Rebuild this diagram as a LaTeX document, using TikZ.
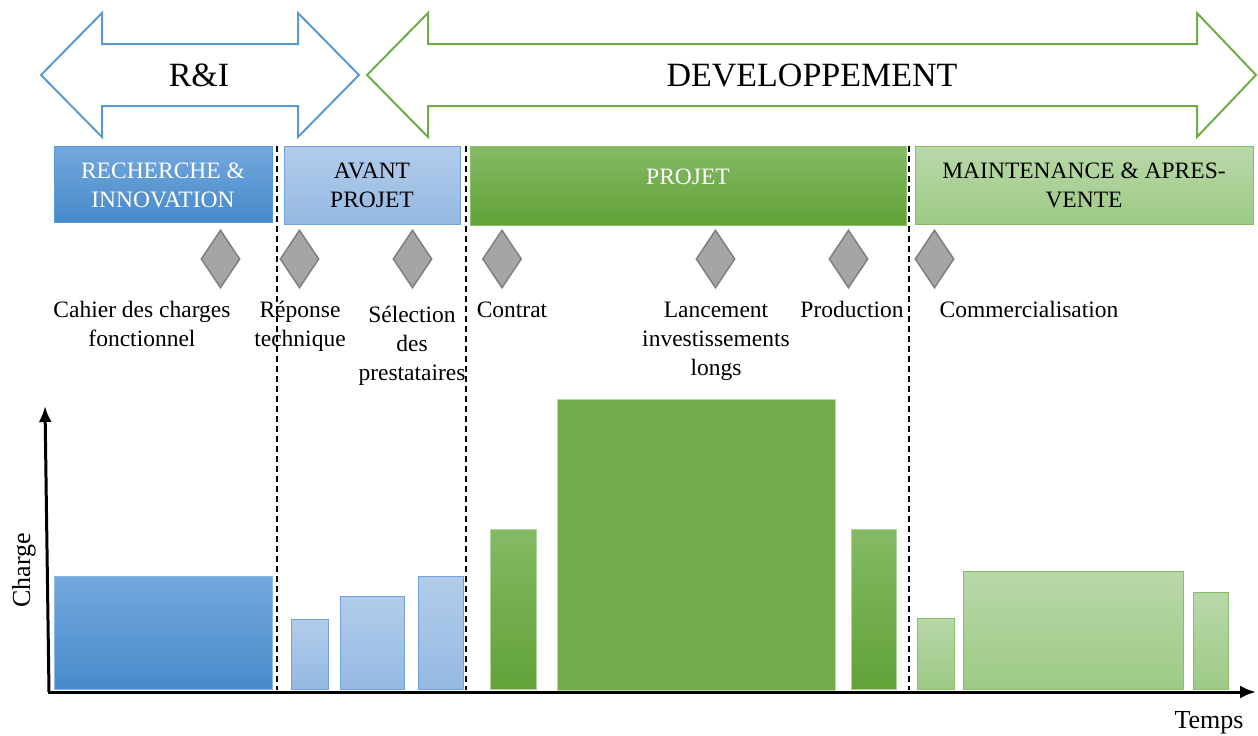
\documentclass[tikz,border=0pt]{standalone}
\usepackage{fontspec}
\setmainfont{Liberation Serif}
\usetikzlibrary{shapes.geometric,arrows.meta}
\definecolor{riblue}{HTML}{5B9BD5}
\definecolor{devgreen}{HTML}{70AD47}
\definecolor{bluetop}{HTML}{73A8DD}
\definecolor{bluebot}{HTML}{478ACA}
\definecolor{lbluetop}{HTML}{B2CCEA}
\definecolor{lbluebot}{HTML}{95B9E3}
\definecolor{lblueline}{HTML}{6FA3DA}
\definecolor{greentop}{HTML}{84BA64}
\definecolor{greenbot}{HTML}{62A238}
\definecolor{greenline}{HTML}{8FC070}
\definecolor{greenmid}{HTML}{72AC4A}
\definecolor{lgreentop}{HTML}{B8D8A9}
\definecolor{lgreenbot}{HTML}{9ECA86}
\definecolor{lgreenline}{HTML}{85BE66}
\definecolor{msfill}{HTML}{A5A5A5}
\definecolor{msdraw}{HTML}{7F7F7F}
\begin{document}
\begin{tikzpicture}[x=1pt,y=-1pt,
  bigarrow/.style={line width=2pt, line join=miter},
  phase/.style={draw, line width=1pt, outer sep=0pt, inner sep=0pt},
  bluephase/.style={phase, draw=riblue, top color=bluetop, bottom color=bluebot},
  lbluephase/.style={phase, draw=lblueline, top color=lbluetop, bottom color=lbluebot},
  greenphase/.style={phase, draw=greenline, top color=greentop, bottom color=greenbot},
  lgreenphase/.style={phase, draw=lgreenline, top color=lgreentop, bottom color=lgreenbot},
  lbl/.style={font=\fontsize{23.5}{29}\selectfont, align=center, inner sep=0pt, anchor=base},
  big/.style={font=\fontsize{34}{40}\selectfont, inner sep=0pt, anchor=base},
  ms/.style={diamond, draw=msdraw, fill=msfill, line width=1.5pt, minimum width=39pt, minimum height=58pt, inner sep=0pt},
  sepline/.style={dash pattern=on 6pt off 4pt, line width=1.4pt},
  axis/.style={line width=3pt, -{Latex[length=16pt,width=13pt]}},
  axlbl/.style={font=\fontsize{26}{30}\selectfont, inner sep=0pt, anchor=base}
]
\useasboundingbox (0,0) rectangle (1258,736);

% big double arrows
\draw[bigarrow, draw=riblue] (41,75) -- (102,13) -- (102,44) -- (298,44) -- (298,13) -- (359,75)
  -- (298,137) -- (298,106) -- (102,106) -- (102,137) -- cycle;
\node[big] (ri) at (199,86) {R\&I};
\draw[bigarrow, draw=devgreen] (367,75) -- (428,13) -- (428,44) -- (1197,44) -- (1197,13) -- (1256,75)
  -- (1197,137) -- (1197,106) -- (428,106) -- (428,137) -- cycle;
\node[big] (dev) at (812,86) {DEVELOPPEMENT};

% phase boxes
\node[bluephase, minimum width=218pt, minimum height=76pt] (rech) at (163,184) {};
\node[lbluephase, minimum width=176pt, minimum height=78pt] (avant) at (372,185) {};
\node[greenphase, minimum width=436pt, minimum height=79pt] (projet) at (688,185.5) {};
\node[lgreenphase, minimum width=338pt, minimum height=78pt] (maint) at (1084,185) {};
\node[lbl, text=white] (rechT) at (163,207) {RECHERCHE \&\\INNOVATION};
\node[lbl] (avantT) at (372,207) {AVANT\\PROJET};
\node[lbl, text=white] (projetT) at (688,184) {PROJET};
\node[lbl] (maintT) at (1084,207) {MAINTENANCE \& APRES-\\VENTE};

% separators
\coordinate (s1t) at (277,146); \coordinate (s1b) at (277,690);
\coordinate (s2t) at (466,146); \coordinate (s2b) at (466,690);
\coordinate (s3t) at (909,146); \coordinate (s3b) at (909,690);
\draw[sepline] (s1t) -- (s1b);
\draw[sepline] (s2t) -- (s2b);
\draw[sepline] (s3t) -- (s3b);

% milestones
\node[ms] (m1) at (220.5,259) {};
\node[ms] (m2) at (299.5,259) {};
\node[ms] (m3) at (412.5,259) {};
\node[ms] (m4) at (502,259) {};
\node[ms] (m5) at (715.5,259) {};
\node[ms] (m6) at (848.5,259) {};
\node[ms] (m7) at (934.5,259) {};

\node[lbl] (l1) at (142,346) {Cahier des charges\\fonctionnel};
\node[lbl] (l2) at (300,346) {Réponse\\technique};
\node[lbl] (l3) at (412,380) {Sélection\\des\\prestataires};
\node[lbl] (l4) at (512,317) {Contrat};
\node[lbl] (l5) at (716,375) {Lancement\\investissements\\longs};
\node[lbl] (l6) at (852,317) {Production};
\node[lbl] (l7) at (1029,317) {Commercialisation};

% bars
\draw[line width=1pt, draw=riblue!70, top color=bluetop, bottom color=bluebot] (54,576) rectangle (272,689);
\draw[line width=1pt, draw=lblueline, top color=lbluetop, bottom color=lbluebot] (291,619) rectangle (328,689);
\draw[line width=1pt, draw=lblueline, top color=lbluetop, bottom color=lbluebot] (340,596) rectangle (404,689);
\draw[line width=1pt, draw=lblueline, top color=lbluetop, bottom color=lbluebot] (418,576) rectangle (463,689);
\draw[line width=1pt, draw=greenline!70, top color=greentop, bottom color=greenbot] (490,529) rectangle (536,689);
\draw[line width=1pt, draw=greenline!60, fill=greenmid] (557,399) rectangle (835,690);
\draw[line width=1pt, draw=greenline!70, top color=greentop, bottom color=greenbot] (851,529) rectangle (896,689);
\draw[line width=1pt, draw=lgreenline, top color=lgreentop, bottom color=lgreenbot] (917,618) rectangle (954,689);
\draw[line width=1pt, draw=lgreenline, top color=lgreentop, bottom color=lgreenbot] (963,571) rectangle (1183,689);
\draw[line width=1pt, draw=lgreenline, top color=lgreentop, bottom color=lgreenbot] (1193,592) rectangle (1228,689);

% axes
\coordinate (o) at (49,692);
\coordinate (ytop) at (45,406);
\coordinate (xend) at (1256,692);
\draw[axis] (o) -- (ytop);
\draw[axis] ([xshift=-1.5pt]o) -- (xend);
\node[axlbl, rotate=90] (charge) at (30,570.5) {Charge};
\node[axlbl] (temps) at (1209,728) {Temps};
\end{tikzpicture}
\end{document}
